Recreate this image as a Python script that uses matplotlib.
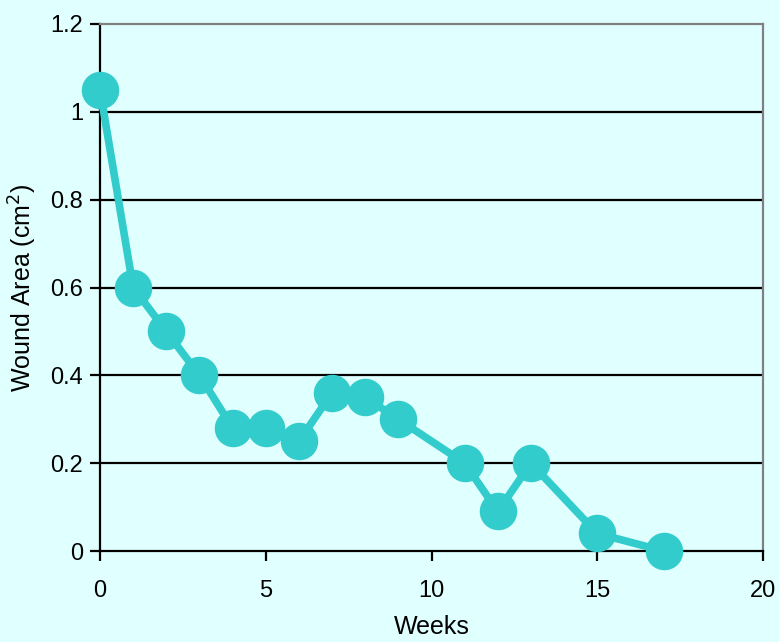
import matplotlib
matplotlib.use("Agg")
import matplotlib.pyplot as plt
from matplotlib import font_manager

weeks = [0, 1, 2, 3, 4, 5, 6, 7, 8, 9, 11, 12, 13, 15, 17]
area = [1.05, 0.60, 0.50, 0.40, 0.28, 0.28, 0.25, 0.36, 0.35, 0.30, 0.20, 0.09, 0.20, 0.04, 0.0]
xticks = [0, 5, 10, 15, 20]
yticks = [0, 0.2, 0.4, 0.6, 0.8, 1.0, 1.2]
yticklabels = ["0", "0.2", "0.4", "0.6", "0.8", "1", "1.2"]

names = {f.name for f in font_manager.fontManager.ttflist}
fam = ["Liberation Sans Narrow", "DejaVu Sans"] if "Liberation Sans Narrow" in names else ["Liberation Sans", "DejaVu Sans"]
plt.rcParams['font.family'] = fam

bg = "#e0ffff"
color = "#33cccc"
fig = plt.figure(figsize=(7.79, 6.42), dpi=100, facecolor=bg)
ax = fig.add_axes([100/779, 1 - 551/642, 663/779, 527/642])
ax.set_facecolor(bg)

for y in yticks[1:-1]:
    ax.axhline(y, color="black", lw=1.6, zorder=1)

ax.plot(weeks, area, color=color, lw=5.5, marker="o", ms=26, zorder=3, clip_on=False)

ax.set_xlim(0, 20)
ax.set_ylim(0, 1.2)
ax.set_xticks(xticks)
ax.set_xticklabels([str(x) for x in xticks])
ax.set_yticks(yticks)
ax.set_yticklabels(yticklabels)
ax.tick_params(axis="both", labelsize=17, length=7, width=1.6, direction="out", colors="black", pad=5)
ax.tick_params(axis="x", pad=14)

for s in ["left", "bottom"]:
    ax.spines[s].set_color("black")
    ax.spines[s].set_linewidth(1.6)
for s in ["top", "right"]:
    ax.spines[s].set_color("#808080")
    ax.spines[s].set_linewidth(1.6)

ax.set_xlabel("Weeks", fontsize=18, labelpad=9)
ax.set_ylabel("Wound Area (cm$^2$)", fontsize=18, labelpad=8)

fig.savefig("out.png", dpi=100, facecolor=bg)
